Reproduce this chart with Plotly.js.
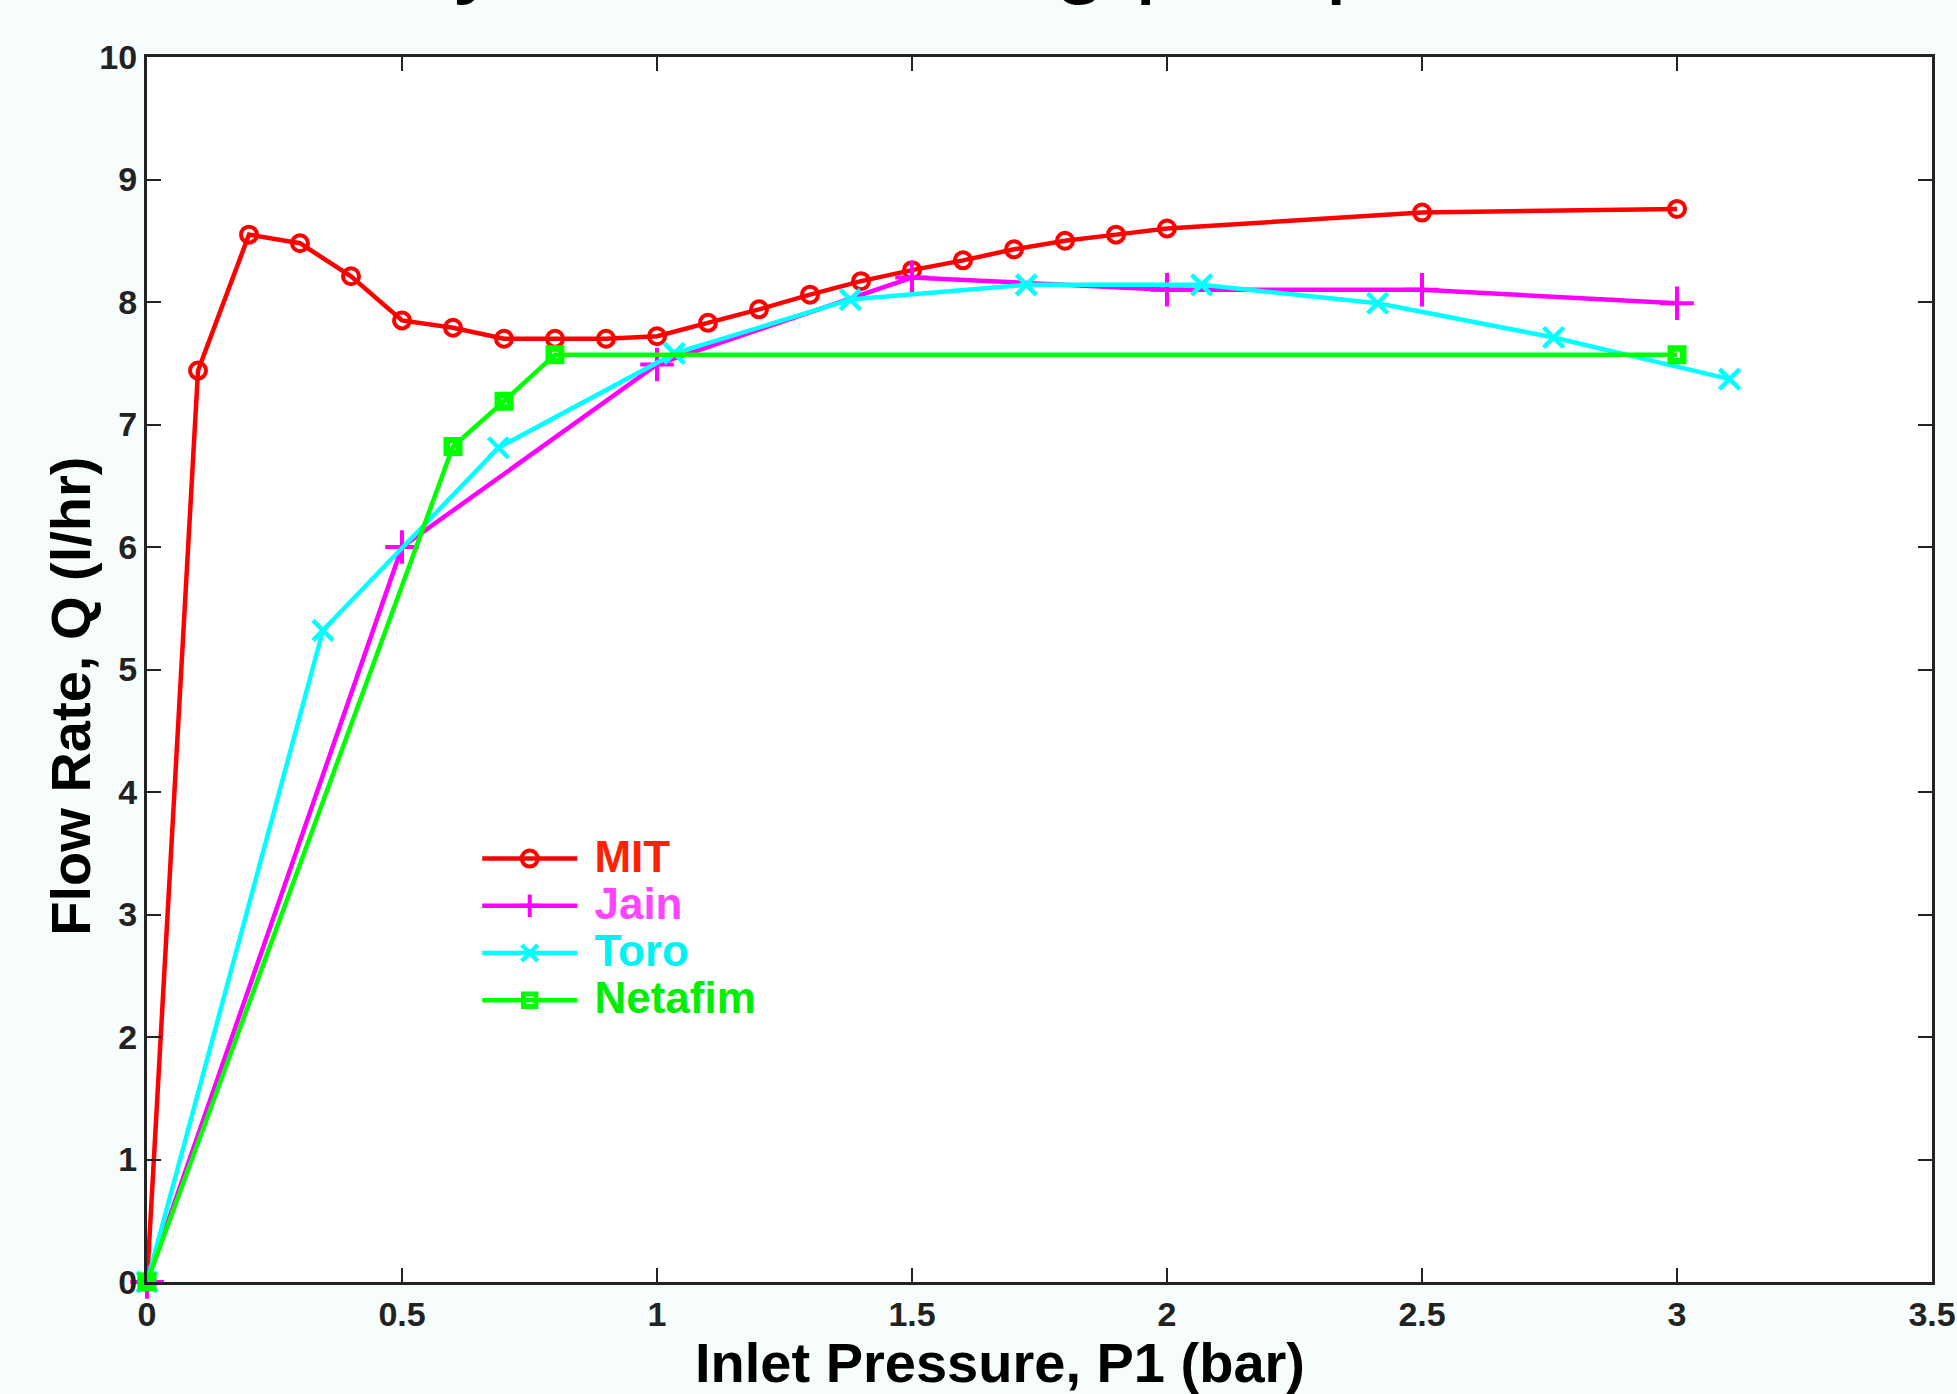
<!DOCTYPE html>
<html>
<head>
<meta charset="utf-8">
<script src="https://cdn.plot.ly/plotly-3.0.1.min.js"></script>
<style>
  html, body { margin: 0; padding: 0; background: #f7fdfd; }
  #chart { width: 1957px; height: 1394px; }
</style>
</head>
<body>
<div id="chart"></div>
<script>
// ---- data ----
const titleText = "Hydraulic testing pump curves";
const xTitle = "Inlet Pressure, P1 (bar)";
const yTitle = "Flow Rate, Q (l/hr)";

const seriesNames = ["MIT", "Jain", "Toro", "Netafim"];

const mitP = [0, 0.1, 0.2, 0.3, 0.4, 0.5, 0.6, 0.7, 0.8, 0.9, 1.0, 1.1, 1.2, 1.3, 1.4, 1.5, 1.6, 1.7, 1.8, 1.9, 2.0, 2.5, 3.0];
const mitQ = [0, 7.44, 8.55, 8.48, 8.21, 7.85, 7.79, 7.70, 7.70, 7.70, 7.72, 7.83, 7.94, 8.06, 8.17, 8.26, 8.34, 8.43, 8.50, 8.55, 8.60, 8.73, 8.76];

const jainP = [0, 0.5, 1.0, 1.5, 2.0, 2.5, 3.0];
const jainQ = [0, 6.0, 7.49, 8.2, 8.1, 8.1, 7.99];

const toroP = [0, 0.345, 0.689, 1.034, 1.379, 1.724, 2.068, 2.413, 2.758, 3.103];
const toroQ = [0, 5.32, 6.81, 7.58, 8.02, 8.14, 8.14, 7.99, 7.71, 7.37];

const netafimP = [0, 0.6, 0.7, 0.8, 3.0];
const netafimQ = [0, 6.82, 7.19, 7.57, 7.57];

const xTickVals = [0, 0.5, 1, 1.5, 2, 2.5, 3, 3.5];
const xTickText = ["0", "0.5", "1", "1.5", "2", "2.5", "3", "3.5"];
const yTickVals = [0, 1, 2, 3, 4, 5, 6, 7, 8, 9, 10];

// ---- styles ----
const lineColors = ["#ff0000", "#ff00ff", "#00ffff", "#00ff00"];
const textColors = ["#ff2200", "#ff44ff", "#00f2f2", "#00ee00"];
const symbols = ["circle-open", "cross-thin-open", "x-thin-open", "square-open"];
const sizes = [16, 24, 20, 12.5];
const markerLineW = [4, 4, 4.5, 6.5];
const xs = [mitP, jainP, toroP, netafimP];
const ys = [mitQ, jainQ, toroQ, netafimQ];

const traces = seriesNames.map((name, i) => ({
  type: "scatter",
  mode: "lines+markers",
  x: xs[i],
  y: ys[i],
  name: '<span style="font-size:44px;color:' + textColors[i] + '">\u00a0' + name + '</span>',
  cliponaxis: false,
  line: { color: lineColors[i], width: 4.5 },
  marker: {
    symbol: symbols[i],
    size: sizes[i],
    color: lineColors[i],
    line: { color: lineColors[i], width: markerLineW[i] }
  }
}));

const fam = "Liberation Sans, Arial, sans-serif";
const axisFont = { family: fam, size: 34, color: "#222222", weight: "bold" };
const axisTitleFont = { family: fam, size: 56, color: "#000000", weight: "bold" };

const layout = {
  width: 1957,
  height: 1394,
  paper_bgcolor: "#f7fdfd",
  plot_bgcolor: "#ffffff",
  margin: { l: 147, r: 25, t: 57, b: 112 },
  showlegend: true,
  legend: {
    x: 0.185, xanchor: "left",
    y: 0.369, yanchor: "top",
    bgcolor: "rgba(0,0,0,0)",
    borderwidth: 0,
    itemwidth: 95,
    font: { family: fam, size: 34, weight: "bold", color: "#000" }
  },
  annotations: [
    {
      text: titleText, showarrow: false,
      xref: "paper", yref: "paper",
      x: 0.5, xanchor: "center",
      y: 1.04, yanchor: "bottom",
      font: { family: fam, size: 98, color: "#000000" }
    },
    {
      text: xTitle, showarrow: false,
      xref: "paper", yref: "paper",
      x: 0.478, xanchor: "center",
      y: -0.066, yanchor: "middle",
      font: axisTitleFont
    },
    {
      text: yTitle, showarrow: false, textangle: -90,
      xref: "paper", yref: "paper",
      x: -0.043, xanchor: "center",
      y: 0.478, yanchor: "middle",
      font: axisTitleFont
    }
  ],
  xaxis: {
    range: [0, 3.5],
    tickvals: xTickVals,
    ticktext: xTickText,
    ticks: "inside",
    ticklen: 14,
    tickwidth: 2,
    tickcolor: "#222",
    showline: true,
    linecolor: "#222",
    linewidth: 3,
    mirror: "ticks",
    showgrid: false,
    zeroline: false,
    tickfont: axisFont
  },
  yaxis: {
    range: [0, 10],
    tickvals: yTickVals,
    ticks: "inside",
    ticklen: 14,
    tickwidth: 2,
    tickcolor: "#222",
    showline: true,
    linecolor: "#222",
    linewidth: 3,
    mirror: "ticks",
    showgrid: false,
    zeroline: false,
    tickfont: axisFont
  }
};

Plotly.newPlot("chart", traces, layout, { displayModeBar: false, responsive: false });
</script>
</body>
</html>
